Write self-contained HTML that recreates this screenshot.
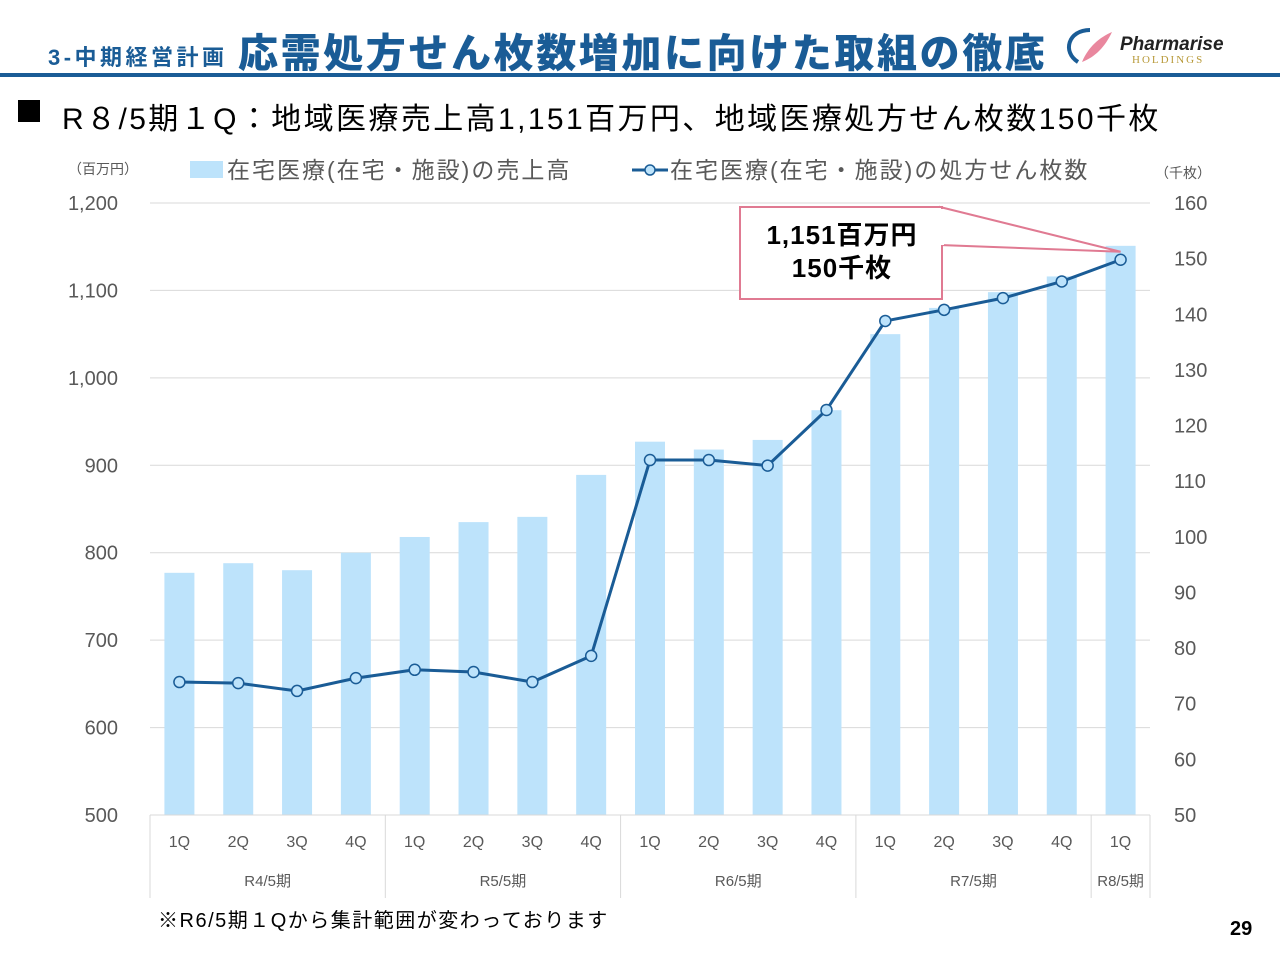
<!DOCTYPE html>
<html><head><meta charset="utf-8"><style>
body{margin:0;width:1280px;height:960px;background:#fff;font-family:"Liberation Sans","Noto Sans CJK JP",sans-serif;position:relative;overflow:hidden}
.a{position:absolute;white-space:nowrap}
</style></head><body>
<div class="a" style="left:48px;top:40px;font-size:22px;font-weight:bold;color:#1a5c96;letter-spacing:3.5px">3-中期経営計画</div>
<div class="a" style="left:238px;top:21px;font-size:40px;font-weight:900;color:#1a5c96;letter-spacing:2.6px">応需処方せん枚数増加に向けた取組の徹底</div>
<svg class="a" style="left:1060px;top:22px" width="220" height="50">
<path d="M18 40 C2 30 8 8 30 8" stroke="#1a5c96" stroke-width="4" fill="none"/>
<path d="M22 40 C28 25 40 15 52 10 C45 25 35 35 22 40Z" fill="#e9879e"/>
<text x="60" y="28" font-size="19" font-style="italic" font-weight="bold" fill="#222" font-family="Liberation Sans">Pharmarise</text>
<text x="72" y="41" font-size="11" fill="#b89a3a" letter-spacing="2" font-family="Liberation Serif">HOLDINGS</text>
</svg>
<div class="a" style="left:0;top:73px;width:1280px;height:4px;background:#1a5c96"></div>
<div class="a" style="left:18px;top:100px;width:22px;height:22px;background:#000"></div>
<div class="a" style="left:62px;top:94px;font-size:30px;color:#000;letter-spacing:2.4px">R８/5期１Q：地域医療売上高1,151百万円、地域医療処方せん枚数150千枚</div>
<svg class="a" id="chart" style="left:0;top:0" width="1280" height="960"></svg>
<div class="a" style="left:158px;top:904px;font-size:20px;color:#000;letter-spacing:1.5px">※R6/5期１Qから集計範囲が変わっております</div>
<div class="a" style="left:1230px;top:918px;font-size:20px;font-weight:bold;color:#000">29</div>
<script>
const quarters=["1Q","2Q","3Q","4Q","1Q","2Q","3Q","4Q","1Q","2Q","3Q","4Q","1Q","2Q","3Q","4Q","1Q"];
const groups=["R4/5期","R5/5期","R6/5期","R7/5期","R8/5期"];
const groupSizes=[4,4,4,4,1];
const sales=[777,788,780,800,818,835,841,889,927,918,929,963,1050,1080,1098,1116,1151];
const rx=[73.9,73.7,72.3,74.6,76.1,75.7,73.9,78.6,113.8,113.8,112.8,122.8,138.8,140.8,142.9,145.9,149.8];
const leftTicks=[500,600,700,800,900,1000,1100,1200];
const rightTicks=[50,60,70,80,90,100,110,120,130,140,150,160];
const NS="http://www.w3.org/2000/svg",svg=document.getElementById('chart');
const X0=150,X1=1150,Y0=815,Y1=203,step=(X1-X0)/quarters.length;
const xc=i=>X0+step*(i+0.5);
const yl=v=>Y0-(v-500)/700*(Y0-Y1);
const yr=v=>Y0-(v-50)/110*(Y0-Y1);
function mk(t,a,txt){const e=document.createElementNS(NS,t);for(const k in a)e.setAttribute(k,a[k]);if(txt!=null)e.textContent=txt;svg.appendChild(e);return e;}
const F='"Liberation Sans","Noto Sans CJK JP",sans-serif';
leftTicks.forEach(v=>{
 if(v>500){const g=mk('line',{x1:X0,x2:X1,y1:yl(v),y2:yl(v),stroke:'#d9d9d9'});
 
 }
 const t=mk('text',{x:118,y:yl(v)+7,'text-anchor':'end','font-size':20,fill:'#595959','font-family':F},v.toLocaleString('en-US'));
 
 
});
rightTicks.forEach(v=>{
 const t=mk('text',{x:1174,y:yr(v)+7,'font-size':20,fill:'#595959','font-family':F},v);
 
 
});
sales.forEach((v,i)=>{
 const r=mk('rect',{x:xc(i)-15,y:yl(v),width:30,height:Y0-yl(v),fill:'#bde3fb'});
 
 
});
mk('line',{x1:X0,x2:X1,y1:Y0,y2:Y0,stroke:'#d9d9d9'});
quarters.forEach((q,i)=>{
 const t=mk('text',{x:xc(i),y:847,'text-anchor':'middle','font-size':16,fill:'#595959','font-family':F},q);
 
 
});
let s=0;
mk('line',{x1:X0,x2:X0,y1:Y0,y2:898,stroke:'#d9d9d9'});
groups.forEach((g,k)=>{
 const a=s;s+=groupSizes[k];
 mk('line',{x1:X0+step*s,x2:X0+step*s,y1:Y0,y2:898,stroke:'#d9d9d9'});
 const t=mk('text',{x:X0+step*(a+s)/2,y:886,'text-anchor':'middle','font-size':15,fill:'#595959','font-family':F},g);
 
 
});
const pl=mk('polyline',{points:rx.map((v,i)=>xc(i)+','+yr(v)).join(' '),fill:'none',stroke:'#1a5c96','stroke-width':3});


rx.forEach((v,i)=>{
 const c=mk('circle',{cx:xc(i),cy:yr(v),r:5.5,fill:'#bde3fb',stroke:'#1a5c96','stroke-width':1.5});
 
 
});
mk('text',{x:68,y:174,'font-size':14,fill:'#595959','font-family':F},'（百万円）');
mk('text',{x:1155,y:178,'font-size':14,fill:'#595959','font-family':F},'（千枚）');
const lg1=mk('rect',{x:190,y:161,width:33,height:17,fill:'#bde3fb'});


mk('text',{x:227,y:178,'font-size':23,fill:'#595959','font-family':F,'letter-spacing':2},'在宅医療(在宅・施設)の売上高');
mk('line',{x1:632,x2:668,y1:170,y2:170,stroke:'#1a5c96','stroke-width':3});
mk('circle',{cx:650,cy:170,r:5,fill:'#bde3fb',stroke:'#1a5c96','stroke-width':1.5});
mk('text',{x:670,y:178,'font-size':23,fill:'#595959','font-family':F,'letter-spacing':2},'在宅医療(在宅・施設)の処方せん枚数');
const last=rx.length-1;
mk('polygon',{points:`940,207 ${xc(last)},${yr(rx[last])-8} 940,245`,fill:'#fff',stroke:'#e07a92','stroke-width':2});
const cb=mk('rect',{x:740,y:207,width:202,height:92,fill:'#fff',stroke:'#e07a92','stroke-width':2});


mk('rect',{x:938,y:209,width:6,height:36,fill:'#fff'});
mk('text',{x:842,y:244,'text-anchor':'middle','font-size':26,'font-weight':'bold',fill:'#000','font-family':F,'letter-spacing':1},'1,151百万円');
mk('text',{x:842,y:277,'text-anchor':'middle','font-size':26,'font-weight':'bold',fill:'#000','font-family':F,'letter-spacing':1},'150千枚');
</script>
</body></html>
